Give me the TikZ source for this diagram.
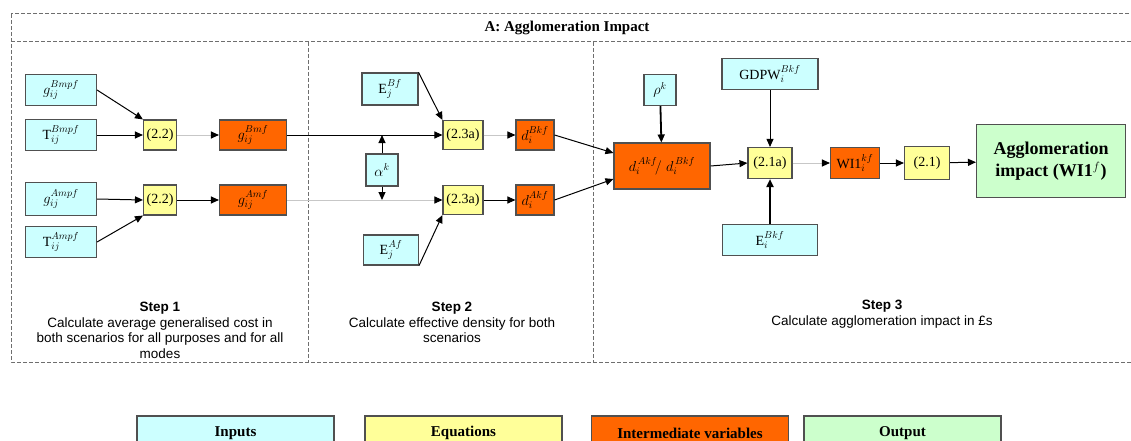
\documentclass[tikz,border=0pt]{standalone}
\usepackage{fontspec}
\setmainfont{Liberation Serif}
\setsansfont{Liberation Sans}
\usetikzlibrary{arrows.meta}
\definecolor{inputblue}{HTML}{CCFFFF}
\definecolor{eqyellow}{HTML}{FFFF99}
\definecolor{interorange}{HTML}{FF6600}
\definecolor{outgreen}{HTML}{CCFFCC}
\definecolor{boxline}{HTML}{505050}
\definecolor{sepgray}{HTML}{6E6E6E}

\begin{document}
\begin{tikzpicture}[x=1pt, y=-1pt,
	box/.style={draw=boxline, line width=1.1pt, inner sep=1pt, font=\fontsize{14}{16}\selectfont},
	input/.style={box, fill=inputblue},
	eqn/.style={box, fill=eqyellow},
	inter/.style={box, fill=interorange},
	result/.style={box, fill=outgreen, align=center, font=\fontsize{18}{22}\selectfont\bfseries},
	legend/.style={box, minimum width=197, minimum height=34, font=\fontsize{15}{17}\selectfont\bfseries},
	flow/.style={line width=1pt, -{Triangle[length=8pt,width=7pt]}},
	thickflow/.style={flow, line width=1.8pt},
	thinflow/.style={flow, line width=0.8pt},
	greyflow/.style={flow, draw=black!22, -{Triangle[length=8pt,width=7pt,color=black]}},
	sep/.style={draw=sepgray, line width=1pt, dash pattern=on 4pt off 2pt},
	steptext/.style={font=\sffamily\fontsize{13.5}{15.5}\selectfont, align=center, anchor=north}]
	\useasboundingbox (0,0) rectangle (1131,441);

	% frame
	\draw [sep] (11,14) rectangle (1140,362);
	\draw [sep] (11,42) -- (1131,42);
	\draw [sep] (308,42) -- (308,362);
	\draw [sep] (593,42) -- (593,362);
	\node [font=\fontsize{15}{17}\selectfont\bfseries] (title) at (567,28) {A: Agglomeration Impact};

	% step 1
	\node [input, minimum width=71, minimum height=31] (gBmpf) at (61,90) {$g_{ij}^{Bmpf}$};
	\node [input, minimum width=71, minimum height=31] (TBmpf) at (61,135) {$\mathrm{T}_{ij}^{Bmpf}$};
	\node [input, minimum width=71, minimum height=33] (gAmpf) at (61,199) {$g_{ij}^{Ampf}$};
	\node [input, minimum width=71, minimum height=31] (TAmpf) at (61,242) {$\mathrm{T}_{ij}^{Ampf}$};

	\node [eqn, minimum width=33, minimum height=30] (eqB22) at (160,135) {(2.2)};
	\node [eqn, minimum width=33, minimum height=30] (eqA22) at (160,200) {(2.2)};

	\node [inter, minimum width=67, minimum height=30] (gBmf) at (253,135) {$g_{ij}^{Bmf}$};
	\node [inter, minimum width=67, minimum height=30] (gAmf) at (253,200) {$g_{ij}^{Amf}$};

	% step 2
	\node [input, minimum width=56, minimum height=32] (EjB) at (390,89) {$\mathrm{E}_{j}^{Bf}$};
	\node [input, minimum width=32, minimum height=32] (alpha) at (382,170) {$\alpha^{k}$};
	\node [input, minimum width=55, minimum height=30] (EjA) at (391,250) {$\mathrm{E}_{j}^{Af}$};
	\coordinate (alphatop) at (382,135);
	\coordinate (alphabot) at (382,200);

	\node [eqn, minimum width=40, minimum height=29] (eqB23) at (463,135) {(2.3a)};
	\node [eqn, minimum width=40, minimum height=29] (eqA23) at (463,200) {(2.3a)};

	\node [inter, minimum width=38, minimum height=30] (dB) at (535,135) {$d_{i}^{Bkf}$};
	\node [inter, minimum width=38, minimum height=30] (dA) at (535,200) {$d_{i}^{Akf}$};

	% step 3
	\node [inter, minimum width=96, minimum height=46] (ratio) at (662,166) {$d_{i}^{\,Akf}\!/\;d_{i}^{\,Bkf}$};
	\node [input, minimum width=32, minimum height=31] (rho) at (660,90) {$\rho^{k}$};
	\node [input, minimum width=96, minimum height=31] (GDPW) at (770,74) {$\mathrm{GDPW}_{i}^{Bkf}$};
	\node [eqn, minimum width=44, minimum height=31] (eq21a) at (770,163) {(2.1a)};
	\node [input, minimum width=95, minimum height=31] (EiB) at (770,240) {$\mathrm{E}_{i}^{Bkf}$};
	\node [inter, minimum width=49, minimum height=31] (WI) at (855,163) {$\mathrm{WI1}_{i}^{kf}$};
	\node [eqn, minimum width=45, minimum height=33] (eq21) at (927,163) {(2.1)};
	\node [result, minimum width=149, minimum height=73] (impact) at (1051,161) {Agglomeration\\impact (WI1$^{f}$)};

	% connectors
	\draw [flow] (gBmpf.east) to (eqB22.north west);
	\draw [flow] (TBmpf) to (eqB22);
	\draw [flow] (gAmpf.east) to (eqA22.west);
	\draw [flow] (TAmpf.east) to (eqA22.south west);

	\draw [greyflow] (eqB22) to (gBmf);
	\draw [flow] (eqA22) to (gAmf);

	\draw [flow] (gBmf) to (eqB23);
	\draw [greyflow] (gAmf) to (eqA23);
	\draw [flow] (alpha) to (alphatop);
	\draw [flow] (alpha) to (alphabot);
	\draw [flow] (EjB.north east) to (eqB23.north west);
	\draw [flow] (EjA.south east) to (eqA23.south west);

	\draw [greyflow] (eqB23) to (dB);
	\draw [flow] (eqA23) to (dA);
	\draw [flow] (dB.east) to (ratio.165);
	\draw [flow] (dA.east) to (ratio.195);

	\draw [thickflow] (rho) to (ratio);
	\draw [flow] (ratio.east) to (eq21a.west);
	\draw [thinflow] (GDPW) to (eq21a);
	\draw [thickflow] (EiB) to (eq21a);
	\draw [greyflow] (eq21a) to (WI);
	\draw [flow] (WI) to (eq21);
	\draw [flow] (eq21) to (impact);

	% step captions
	\node [steptext] (step1) at (160,299) {\textbf{Step 1}\\Calculate average generalised cost in\\both scenarios for all purposes and for all\\modes};
	\node [steptext] (step2) at (452,299) {\textbf{Step 2}\\Calculate effective density for both\\scenarios};
	\node [steptext] (step3) at (882,297) {\textbf{Step 3}\\Calculate agglomeration impact in £s};

	% key
	\node [legend, fill=inputblue] (keyin) at (235.5,433) {Inputs};
	\node [legend, fill=eqyellow] (keyeq) at (463.5,433) {Equations};
	\node [legend, fill=interorange] (keyint) at (690,433) {Intermediate variables};
	\node [legend, fill=outgreen] (keyout) at (902.5,433) {Output};
\end{tikzpicture}
\end{document}
